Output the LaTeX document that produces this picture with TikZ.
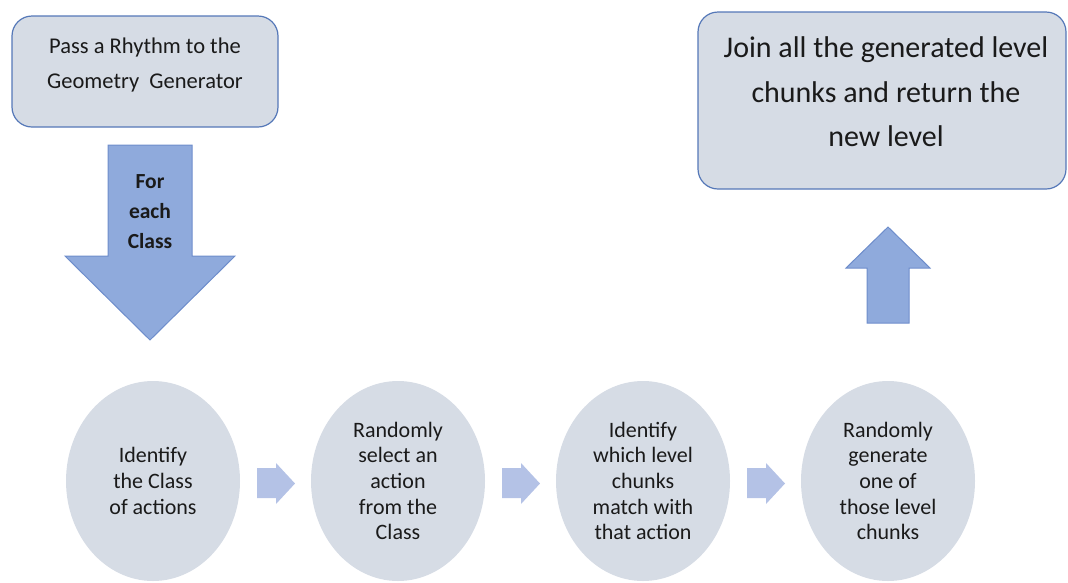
\documentclass[tikz,border=0pt]{standalone}
\usepackage{fontspec}
\setmainfont{Carlito}
\usetikzlibrary{shapes.geometric}
\definecolor{boxfill}{HTML}{D6DCE5}
\definecolor{boxline}{HTML}{5578B8}
\definecolor{bigarrow}{HTML}{8FAADC}
\definecolor{bigarrowline}{HTML}{6E8DCB}
\definecolor{smallarrow}{HTML}{B4C2E6}
\definecolor{txt}{HTML}{1A1A1A}
\begin{document}
\begin{tikzpicture}[x=1pt,y=-1pt,
  roundbox/.style={draw=boxline, line width=1.2pt, fill=boxfill, rounded corners=20pt},
  ovalstep/.style={ellipse, fill=boxfill, minimum width=174pt, minimum height=200pt, inner sep=0pt},
  steptext/.style={align=center, text=txt, font=\fontsize{22}{25.6}\selectfont},
  bigarr/.style={fill=bigarrow, draw=bigarrowline, line width=1pt},
  smallarr/.style={fill=smallarrow}
]
\useasboundingbox (0,0) rectangle (1068,582);
% top-left box
\draw[roundbox] (12,16) rectangle (278,127);
\node[align=center, text=txt, font=\fontsize{22.5}{35}\selectfont] (start) at (145,65) {Pass a Rhythm to the\\Geometry~ Generator};
% top-right box
\draw[roundbox] (698,12) rectangle (1066,189);
\node[align=center, text=txt, font=\fontsize{30}{44.5}\selectfont] (finish) at (886,92) {Join all the generated level\\chunks and return the\\new level};
% big down arrow
\draw[bigarr] (108,145) -- (192,145) -- (192,256) -- (235,256) -- (150,340) -- (65,256) -- (108,256) -- cycle;
\node[align=center, text=txt, font=\bfseries\fontsize{21.5}{30}\selectfont] (foreach) at (150,212) {For\\each\\Class};
% big up arrow
\draw[bigarr] (867,323) -- (867,268) -- (846,268) -- (888,227) -- (930,268) -- (909,268) -- (909,323) -- cycle;
% ellipses
\node[ovalstep] (e1) at (153,481) {};
\node[ovalstep] (e2) at (398,481) {};
\node[ovalstep] (e3) at (643,481) {};
\node[ovalstep] (e4) at (888,481) {};
\node[steptext] (t1) at (e1) {Identify\\the Class\\of actions};
\node[steptext] (t2) at (e2) {Randomly\\select an\\action\\from the\\Class};
\node[steptext] (t3) at (e3) {Identify\\which level\\chunks\\match with\\that action};
\node[steptext] (t4) at (e4) {Randomly\\generate\\one of\\those level\\chunks};
% small arrows
\foreach \x in {257,502,747} {
  \fill[smallarr] (\x,468) -- (\x+19,468) -- (\x+19,463) -- (\x+38,483.5) -- (\x+19,504) -- (\x+19,498) -- (\x,498) -- cycle;
}
\end{tikzpicture}
\end{document}
